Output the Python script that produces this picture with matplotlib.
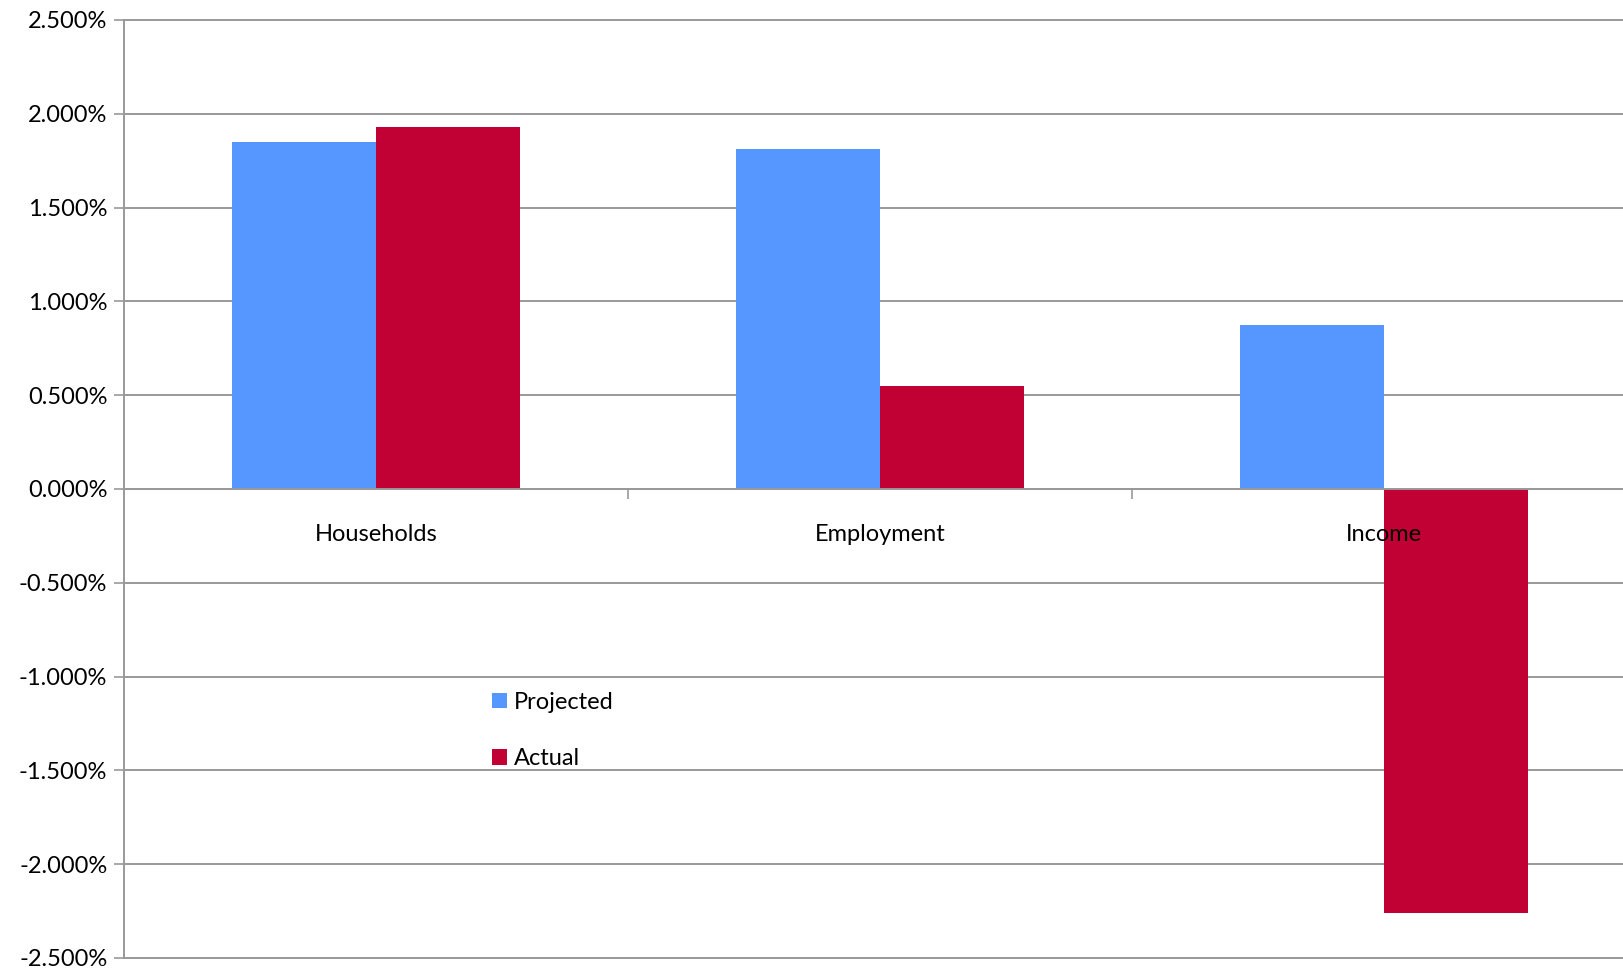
import matplotlib.pyplot as plt
from matplotlib.ticker import FuncFormatter, FixedLocator
import numpy as np

categories = ['Households', 'Employment', 'Income']
projected = [1.85, 1.81, 0.875]
actual = [1.93, 0.55, -2.26]
series_names = ['Projected', 'Actual']
y_ticks = [2.5, 2.0, 1.5, 1.0, 0.5, 0.0, -0.5, -1.0, -1.5, -2.0, -2.5]

plt.rcParams['font.family'] = ['Lato', 'DejaVu Sans']

fig = plt.figure(figsize=(16.23, 9.68), dpi=100)
# plot area runs a little past the right edge of the image, as in the original
ax = fig.add_axes([124 / 1623, 10 / 968, 1512 / 1623, 938 / 968])

x = np.arange(len(categories))
w = 0.286
ax.bar(x - w / 2, projected, w, color='#5596FF', label=series_names[0], zorder=3)
ax.bar(x + w / 2, actual, w, color='#C10034', label=series_names[1], zorder=3)

ax.set_xlim(-0.5, len(categories) - 0.5)
ax.set_ylim(-2.5, 2.5)
ax.set_yticks(y_ticks)
ax.yaxis.set_major_formatter(FuncFormatter(lambda v, p: '{:.3f}%'.format(v)))
ax.yaxis.grid(True, color='#999999', linewidth=1.4, zorder=0)
for gl in ax.get_ygridlines():
    gl.set_clip_on(False)
ax.tick_params(axis='y', length=7, width=1.2, color='#999999', labelsize=17, pad=5)

# category axis sits on the zero line
ax.spines['bottom'].set_position(('data', 0))
ax.spines['bottom'].set_color('#999999')
ax.spines['bottom'].set_linewidth(1.4)
ax.spines['bottom'].set_zorder(4)
ax.spines['top'].set_visible(False)
ax.spines['right'].set_visible(False)
ax.spines['left'].set_color('#999999')
ax.spines['left'].set_linewidth(1.4)
ax.set_xticks(x)
ax.set_xticklabels(categories)
ax.tick_params(axis='x', length=0, labelsize=17, pad=25)
ax.xaxis.set_minor_locator(FixedLocator([0.5, 1.5]))
ax.tick_params(axis='x', which='minor', length=7, width=1.2, color='#999999', direction='out')
ax.xaxis.set_zorder(5)

ax.legend(loc='upper left', bbox_to_anchor=(492 / 1623, 1 - 692 / 968),
          bbox_transform=fig.transFigure, frameon=False, fontsize=17,
          handlelength=0.62, handleheight=0.62, handletextpad=0.3,
          labelspacing=1.5, borderpad=0, borderaxespad=0)

plt.savefig('out.png', dpi=100)
